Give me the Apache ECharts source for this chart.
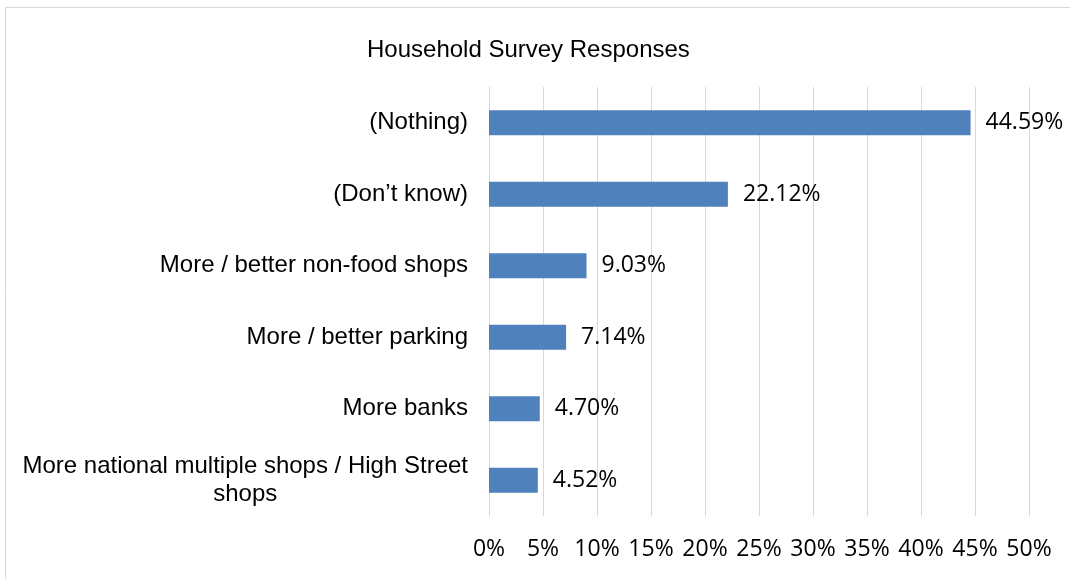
<!DOCTYPE html>
<html>
<head>
<meta charset="utf-8">
<script src="https://cdn.jsdelivr.net/npm/echarts@6/dist/echarts.min.js"></script>
<style>
  html, body { margin: 0; padding: 0; background: #fff; }
  #chart { width: 1070px; height: 579px; }
</style>
</head>
<body>
<div id="chart"></div>
<script>
// Survey answers, listed top to bottom
const categories = [
  '(Nothing)',
  '(Don\u2019t know)',
  'More / better non-food shops',
  'More / better parking',
  'More banks',
  'More national multiple shops / High Street\nshops'
];
// Share of households giving each answer (%)
const shares = [44.59, 22.12, 9.03, 7.14, 4.70, 4.52];
// Value axis range and step (%)
const axisMin = 0;
const axisMax = 50;
const axisStep = 5;

const catFont = '"Liberation Sans", Arial, sans-serif';
const numFont = '"Open Sans", "Noto Sans", sans-serif';

const chart = echarts.init(document.getElementById('chart'), null, { renderer: 'canvas' });

chart.setOption({
  animation: false,
  backgroundColor: '#ffffff',
  title: {
    text: 'Household Survey Responses',
    left: 367,
    top: 38,
    padding: 0,
    textStyle: { fontFamily: catFont, fontSize: 24, fontWeight: 'normal', color: '#000000' }
  },
  graphic: [{
    type: 'rect',
    shape: { x: 5.5, y: 7.5, width: 1200, height: 700 },
    style: { fill: 'none', stroke: '#d9d9d9', lineWidth: 1 },
    silent: true
  }],
  grid: { left: 489, right: 41, top: 87, bottom: 63, containLabel: false },
  xAxis: {
    type: 'value',
    min: axisMin,
    max: axisMax,
    interval: axisStep,
    axisLine: { show: false },
    axisTick: { show: false },
    splitLine: { show: true, lineStyle: { color: '#d9d9d9', width: 1 } },
    axisLabel: {
      formatter: '{value}%',
      margin: 22,
      fontFamily: numFont,
      fontSize: 23,
      color: '#000000'
    }
  },
  yAxis: {
    type: 'category',
    inverse: true,
    data: categories,
    axisLine: { show: true, lineStyle: { color: '#d9d9d9', width: 1 } },
    axisTick: { show: false },
    axisLabel: {
      margin: 21,
      formatter: function (v) {
        return v.split('\n').map(function (line) { return '{c|' + line + '}'; }).join('\n');
      },
      rich: {
        c: { fontFamily: catFont, fontSize: 24, color: '#000000', align: 'center', lineHeight: 28 }
      },
      fontFamily: catFont,
      fontSize: 24,
      color: '#000000'
    }
  },
  series: [{
    type: 'bar',
    data: shares,
    barWidth: 25,
    itemStyle: { color: '#4f81bd' },
    label: {
      show: true,
      position: 'right',
      distance: 15,
      formatter: function (p) { return p.value.toFixed(2) + '%'; },
      fontFamily: numFont,
      fontSize: 23,
      color: '#000000'
    }
  }]
});
</script>
</body>
</html>
